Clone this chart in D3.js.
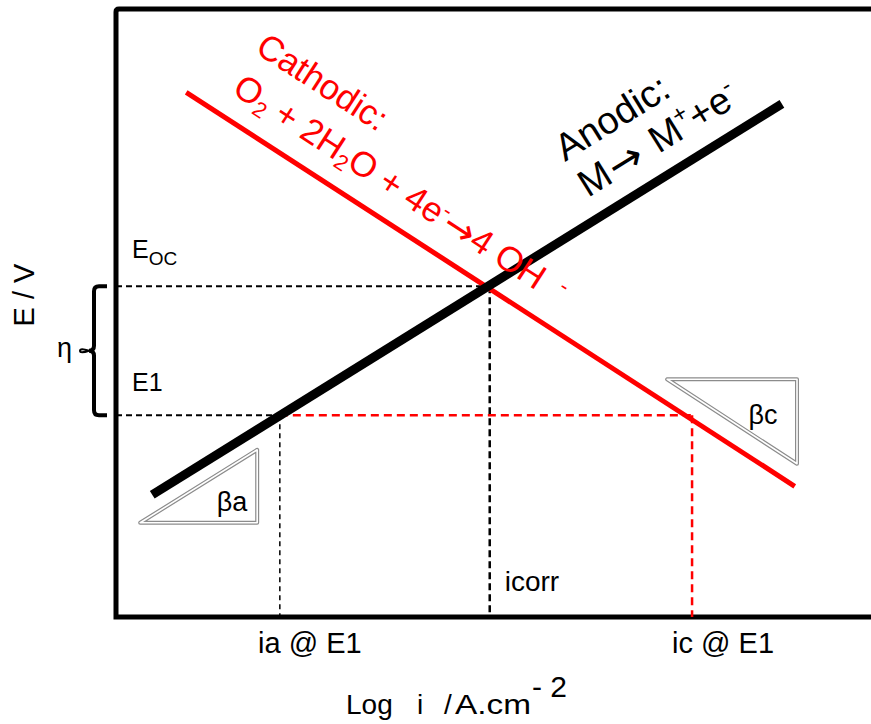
<!DOCTYPE html>
<html>
<head>
<meta charset="utf-8">
<script src="https://cdn.jsdelivr.net/npm/d3@7"></script>
<style>
  body { margin: 0; background: #fff; }
  text { font-family: Arial, "Liberation Sans", sans-serif; white-space: pre; }
  .arrow { font-family: "DejaVu Sans", sans-serif; }
</style>
</head>
<body>
<script>
// Tafel lines (x = log i, y = E), arbitrary units
const anodicX = [0.48, 8.82];
const anodicE = [2.01, 8.44];
const cathodicX = [0.93, 8.99];
const cathodicE = [8.63, 2.15];

// marked potentials and currents
const E_OC = 5.44;
const E1 = 3.32;
const iCorr = 4.95;
const iaE1 = 2.17;
const icE1 = 7.63;

// slope triangles
const betaA = [[0.32, 1.55], [1.87, 2.75], [1.87, 1.55]];
const betaC = [[7.30, 3.91], [9.02, 3.91], [9.02, 2.52]];

const width = 871;
const height = 724;

const svg = d3
  .select("body")
  .append("svg")
  .attr("width", width)
  .attr("height", height);

svg.append("rect").attr("width", width).attr("height", height).attr("fill", "#fff");

// scales: frame left/bottom at 0
const x = d3.scaleLinear().domain([0, 10]).range([116, 871]);
const y = d3.scaleLinear().domain([0, 10]).range([617, 9]);

// frame (right side runs off the picture)
svg
  .append("path")
  .attr("d", `M${x(10.3)},${y(0)} L${x(0)},${y(0)} L${x(0)},${y(10) + 3} Q${x(0)},${y(10)} ${x(0) + 3},${y(10)} L${x(10.3)},${y(10)}`)
  .attr("fill", "none")
  .attr("stroke", "#000")
  .attr("stroke-width", 5);

// dashed guide lines
function dashed(x1, y1, x2, y2, color, w, dash) {
  svg
    .append("line")
    .attr("x1", x(x1))
    .attr("y1", y(y1))
    .attr("x2", x(x2))
    .attr("y2", y(y2))
    .attr("stroke", color)
    .attr("stroke-width", w)
    .attr("stroke-dasharray", dash);
}
dashed(0, E_OC, iCorr, E_OC, "#000", 2, "6,4");
dashed(iCorr, E_OC, iCorr, 0, "#000", 2.5, "7,4");
dashed(0, E1, iaE1, E1, "#000", 2, "6,4");
dashed(iaE1, E1, icE1, E1, "#f00", 2.5, "8,5");
dashed(iaE1, E1, iaE1, 0, "#000", 1.5, "5,4");
dashed(icE1, E1, icE1, 0, "#f00", 2.5, "8,5");

// Tafel lines
svg
  .append("line")
  .attr("x1", x(cathodicX[0]))
  .attr("y1", y(cathodicE[0]))
  .attr("x2", x(cathodicX[1]))
  .attr("y2", y(cathodicE[1]))
  .attr("stroke", "#f00")
  .attr("stroke-width", 5);

svg
  .append("line")
  .attr("x1", x(anodicX[0]))
  .attr("y1", y(anodicE[0]))
  .attr("x2", x(anodicX[1]))
  .attr("y2", y(anodicE[1]))
  .attr("stroke", "#000")
  .attr("stroke-width", 9);

// slope triangles: double grey outline
const tri = d3
  .line()
  .x((d) => x(d[0]))
  .y((d) => y(d[1]))
  .curve(d3.curveLinearClosed);
[betaA, betaC].forEach(function (t) {
  svg.append("path").attr("d", tri(t)).attr("fill", "#fff").attr("stroke", "#8c8c8c").attr("stroke-width", 4).attr("stroke-linejoin", "round");
  svg.append("path").attr("d", tri(t)).attr("fill", "none").attr("stroke", "#fff").attr("stroke-width", 1.6).attr("stroke-linejoin", "round");
});
svg.append("text").attr("x", 232).attr("y", 511).attr("font-size", 27).attr("text-anchor", "middle").text("βa");
svg.append("text").attr("x", 763).attr("y", 424).attr("font-size", 27).attr("text-anchor", "middle").text("βc");

// angles of the lines in pixel space
const angC = (Math.atan2(y(cathodicE[1]) - y(cathodicE[0]), x(cathodicX[1]) - x(cathodicX[0])) * 180) / Math.PI;
const angA = (Math.atan2(y(anodicE[1]) - y(anodicE[0]), x(anodicX[1]) - x(anodicX[0])) * 180) / Math.PI;

// cathodic label
const cat = svg.append("g").attr("fill", "#f00").attr("font-size", 35);
cat.append("text").attr("transform", `translate(254,52) rotate(${angC})`).text("Cathodic:");
const cat2 = cat.append("text").attr("transform", `translate(231,93) rotate(${angC})`);
cat2.append("tspan").text("O");
cat2.append("tspan").attr("font-size", 22).attr("dy", 6).text("2");
cat2.append("tspan").attr("dy", -6).text(" + 2H");
cat2.append("tspan").attr("font-size", 22).attr("dy", 6).text("2");
cat2.append("tspan").attr("dy", -6).text("O + 4e");
cat2.append("tspan").attr("font-size", 22).attr("dy", -12).text("-");
cat2.append("tspan").attr("class", "arrow").attr("font-size", 38).attr("dy", 14).text("→");
cat2.append("tspan").attr("dy", -2).text("4 OH");
cat2.append("tspan").attr("font-size", 22).attr("dy", -12).text("   -");

// anodic label
const an = svg.append("g").attr("fill", "#000").attr("font-size", 38);
an.append("text").attr("transform", `translate(565,162) rotate(${angA})`).text("Anodic:");
const an2 = an.append("text").attr("transform", `translate(588,198) rotate(${angA})`);
an2.append("tspan").text("M");
an2.append("tspan").attr("class", "arrow").attr("font-size", 42).attr("dx", 2).attr("dy", 2).text("→");
an2.append("tspan").attr("dy", -2).attr("dx", 4).text(" M");
an2.append("tspan").attr("font-size", 24).attr("dy", -15).text("+");
an2.append("tspan").attr("dy", 15).text("+e");
an2.append("tspan").attr("font-size", 24).attr("dy", -15).text("-");

// potential labels
const eoc = svg.append("text").attr("x", 132).attr("y", y(E_OC) - 28).attr("font-size", 25);
eoc.append("tspan").text("E");
eoc.append("tspan").attr("font-size", 19).attr("dy", 7).text("OC");
svg.append("text").attr("x", 132).attr("y", y(E1) - 24).attr("font-size", 25).text("E1");

// overpotential bracket
const bt = y(E_OC);
const bb = y(E1);
const bm = (bt + bb) / 2;
svg
  .append("path")
  .attr("d", `M107,${bt} L99,${bt} Q94,${bt} 94,${bt + 5} L94,${bm - 5} Q94,${bm} 89,${bm} Q94,${bm} 94,${bm + 5} L94,${bb - 5} Q94,${bb} 99,${bb} L107,${bb}`)
  .attr("fill", "none")
  .attr("stroke", "#000")
  .attr("stroke-width", 4);
svg
  .append("path")
  .attr("d", `M89,${bm} Q80,${bm - 3} 80,${bm} Q80,${bm + 3} 89,${bm}`)
  .attr("fill", "none")
  .attr("stroke", "#000")
  .attr("stroke-width", 2);
svg.append("text").attr("x", 57).attr("y", bm + 6).attr("font-size", 27).text("η");

// axis title
svg
  .append("text")
  .attr("transform", `translate(34,295) rotate(-90)`)
  .attr("font-size", 29)
  .attr("text-anchor", "middle")
  .text("E / V");

// current labels
svg.append("text").attr("x", x(iaE1) + 30).attr("y", 653).attr("font-size", 29).attr("text-anchor", "middle").text("ia @ E1");
svg.append("text").attr("x", x(icE1) + 31).attr("y", 653).attr("font-size", 29).attr("text-anchor", "middle").text("ic @ E1");
svg.append("text").attr("x", x(iCorr) + 15).attr("y", 591).attr("font-size", 28).text("icorr");

// x title
const xt = svg.append("text").attr("y", 714).attr("font-size", 28);
xt.append("tspan").attr("x", 346).text("Log");
xt.append("tspan").attr("x", 417).text("i");
xt.append("tspan").attr("x", 444).text("/");
xt.append("tspan").attr("x", 455).attr("textLength", 76).attr("lengthAdjust", "spacingAndGlyphs").text("A.cm");
xt.append("tspan").attr("x", 532).attr("y", 697).attr("font-size", 30).text("- 2");
</script>
</body>
</html>
